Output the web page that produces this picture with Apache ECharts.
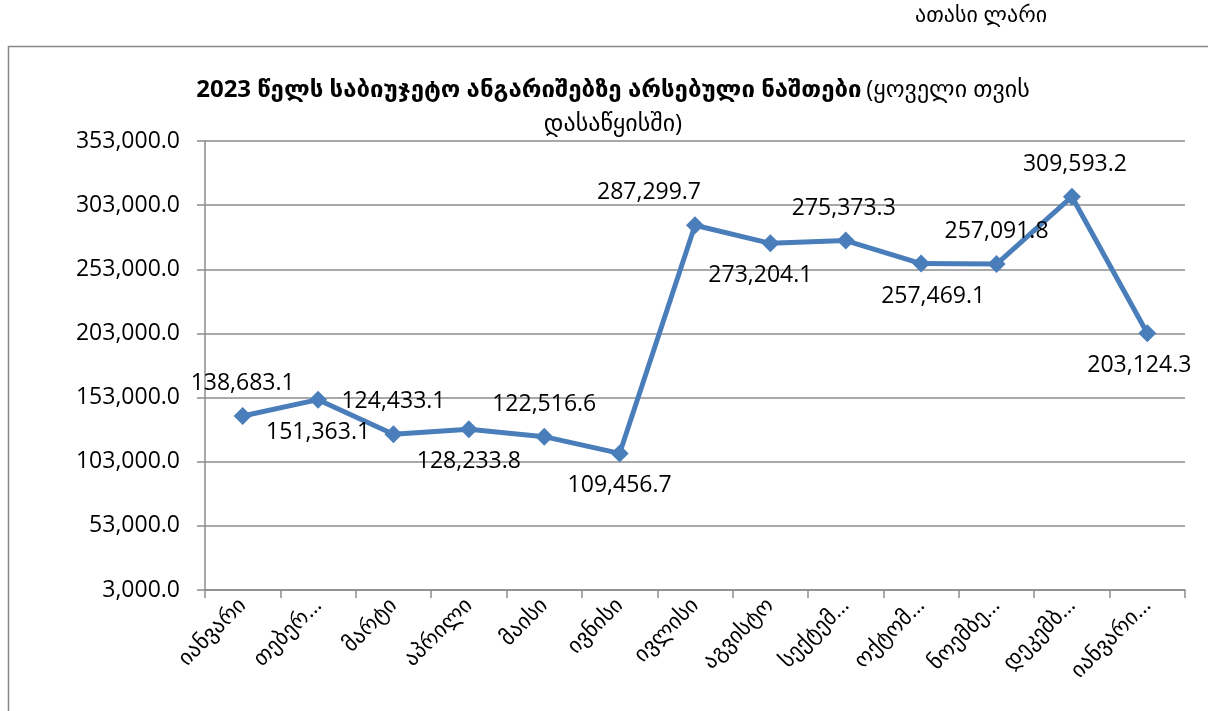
<!DOCTYPE html>
<html>
<head>
<meta charset="utf-8">
<script src="https://cdn.jsdelivr.net/npm/echarts@6/dist/echarts.min.js"></script>
<style>
  html, body { margin: 0; padding: 0; background: #fff; }
  #chart { width: 1208px; height: 711px; }
</style>
</head>
<body>
<div id="chart"></div>
<script>
// months (as shown on the axis, already truncated like the original)
const months = ['იანვარი', 'თებერ…', 'მარტი', 'აპრილი', 'მაისი', 'ივნისი', 'ივლისი',
  'აგვისტო', 'სექტემ…', 'ოქტომ…', 'ნოემბე…', 'დეკემბ…', 'იანვარი…'];
// balances, thousand GEL
const balances = [138683.1, 151363.1, 124433.1, 128233.8, 122516.6, 109456.7, 287299.7,
  273204.1, 275373.3, 257469.1, 257091.8, 309593.2, 203124.3];
const yTicks = [3000, 53000, 103000, 153000, 203000, 253000, 303000, 353000];

// where each value label sits relative to its point
const labelPlace = ['top', 'bottom', 'top', 'bottom', 'top', 'bottom', 'top',
  'bottom', 'top', 'bottom', 'top', 'top', 'bottom'];
const labelShift = [[0, 0], [0, 0], [0, 0], [0, 0], [0, 0], [0, 0], [-46, 0],
  [-10, 0], [-2, 0], [12, 0], [0, 0], [3, 0], [-8, 0]];

const fmt = v => v.toLocaleString('en-US', { minimumFractionDigits: 1, maximumFractionDigits: 1 });

const chart = echarts.init(document.getElementById('chart'));
const font = '"Open Sans", "DejaVu Sans", sans-serif';

chart.setOption({
  animation: false,
  backgroundColor: '#fff',
  textStyle: { fontFamily: font },
  graphic: [
    {
      type: 'rect',
      shape: { x: 8.5, y: 46.5, width: 1210, height: 680 },
      style: { fill: 'none', stroke: '#888', lineWidth: 1.5 }
    },
    {
      type: 'text',
      left: 915, top: 5,
      style: { text: 'ათასი ლარი', font: '22px ' + font, fill: '#000' }
    }
  ],
  title: {
    text: '{b|2023 წელს საბიუჯეტო ანგარიშებზე არსებული ნაშთები} {n|(ყოველი თვის}\n{n|დასაწყისში)}',
    left: 608,
    textAlign: 'center',
    top: 68,
    textStyle: {
      fontWeight: 'normal',
      rich: {
        b: { fontSize: 24, fontWeight: 'bold', color: '#000', fontFamily: font, lineHeight: 34 },
        n: { fontSize: 24, fontWeight: 'normal', color: '#000', fontFamily: font, lineHeight: 34 }
      }
    }
  },
  grid: { left: 205, right: 23, top: 141, bottom: 121, containLabel: false },
  xAxis: {
    type: 'category',
    data: months,
    boundaryGap: true,
    axisLine: { lineStyle: { color: '#8c8c8c', width: 1.5 } },
    axisTick: { show: true, length: 8, alignWithLabel: false, lineStyle: { color: '#8c8c8c', width: 1.5 } },
    axisLabel: {
      interval: 0,
      rotate: 45,
      margin: 12,
      fontSize: 22,
      color: '#000',
      fontFamily: font
    },
    splitLine: { show: false }
  },
  yAxis: {
    type: 'value',
    min: yTicks[0],
    max: yTicks[yTicks.length - 1],
    interval: yTicks[1] - yTicks[0],
    axisLine: { show: true, lineStyle: { color: '#8c8c8c', width: 1.5 } },
    axisTick: { show: true, length: 8, lineStyle: { color: '#8c8c8c', width: 1.5 } },
    axisLabel: {
      fontSize: 23,
      color: '#000',
      margin: 25,
      fontFamily: font,
      formatter: v => fmt(v)
    },
    splitLine: { show: true, lineStyle: { color: '#8c8c8c', width: 1.5 } }
  },
  series: [{
    type: 'line',
    data: balances.map((v, i) => ({
      value: v,
      label: { position: labelPlace[i], offset: labelShift[i] }
    })),
    symbol: 'diamond',
    symbolSize: 18,
    lineStyle: { color: '#4A7EBB', width: 5 },
    itemStyle: { color: '#4A7EBB' },
    label: {
      show: true,
      distance: 12,
      fontSize: 23,
      color: '#000',
      fontFamily: font,
      formatter: p => fmt(p.value)
    }
  }]
});
</script>
</body>
</html>
